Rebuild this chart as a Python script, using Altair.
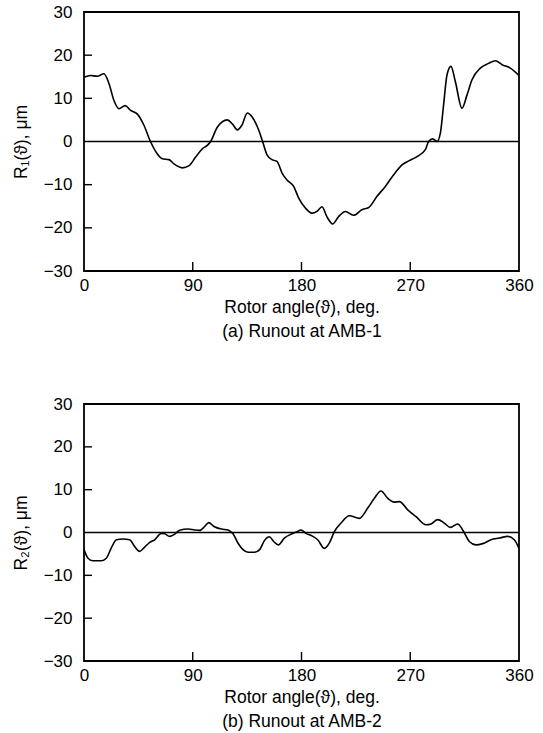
import altair as alt
import pandas as pd

# Panel (a): runout at AMB-1
deg_a = [0, 5.5, 11, 16.5, 20.7, 24.8, 29, 34, 38.6, 44, 49.7, 55, 60.7, 64.8, 70.3, 74.5,
         81.4, 87, 92.4, 97.9, 102, 104.8, 110.3, 118.6, 122.7, 126.9, 130.5, 135.2, 139.3,
         144.8, 147.6, 151.5, 155.6, 159.7, 163.9, 168, 173.5, 177.7, 183.2, 188.7, 192.8,
         197, 201, 205.8, 210.7, 216.3, 223.1, 230, 235.6, 242.5, 249.4, 256.3, 263.2, 268.7,
         275.6, 282.5, 285.2, 288.6, 292.1, 294.9, 297.6, 300.4, 303.7, 307.3, 312.8, 317,
         321.1, 328, 334.9, 340.4, 346, 352.8, 360]
r1 = [14.9, 15.3, 15.1, 15.7, 13.4, 9.5, 7.6, 8.3, 7.2, 6.4, 3.7, 0, -2.9, -4.0, -4.2, -5.2,
      -6.1, -5.6, -3.6, -1.7, -0.9, 0, 3.3, 5.0, 4.1, 2.7, 3.7, 6.6, 5.6,
      2.5, 0.2, -3.1, -4.2, -4.6, -7.3, -8.9, -10.4, -13.1, -15.4, -16.6, -16.2,
      -15.1, -17.4, -19.1, -17.4, -16.2, -17.1, -15.8, -15.3, -12.7, -10.4, -7.7, -5.4, -4.5,
      -3.5, -1.9, 0, 0.6, 0, 1.9, 8.5, 15.4, 17.4, 13.9, 7.7, 10.8,
      14.3, 17.0, 18.1, 18.7, 17.8, 17.0, 15.3]

# Panel (b): runout at AMB-2
deg_b = [0, 3.3, 7.4, 14.3, 18.5, 22.6, 26.8, 32.3, 37.8, 42, 46.1, 50.2, 54.4, 58.5, 64,
         66.8, 70.9, 74.5, 79.2, 86.1, 91.6, 95.8, 99.9, 103.2, 107.6, 113.6, 119.2, 123.3,
         127.5, 131.6, 135.7, 141.3, 145.4, 149.3, 153.4, 157, 160.8, 165.8, 171.3, 176.3,
         179.6, 183.7, 189.3, 193.4, 198.9, 203, 207.2, 212.7, 219.6, 227.9, 234.8, 240.3,
         245.8, 251.3, 256.8, 261, 267.9, 274.8, 283.1, 287.2, 292.7, 298.2, 303.2, 309.3,
         313.4, 318.9, 324.4, 330, 336.8, 343.7, 350.7, 356.1, 360]
r2 = [-4.0, -6.0, -6.6, -6.6, -6.0, -3.6, -1.7, -1.5, -1.7, -3.3, -4.4, -3.4, -2.3, -1.7, -0.2,
      -0.3, -0.9, -0.5, 0.5, 0.8, 0.6, 0.5, 1.4, 2.3, 1.4, 0.8, 0.6, -0.3,
      -2.5, -4.0, -4.6, -4.6, -4.0, -1.9, -1.0, -2.1, -2.9, -1.3, -0.4, 0.2,
      0.6, -0.2, -0.9, -1.7, -3.7, -2.5, 0.2, 2.2, 3.9, 3.3, 5.7, 8.0,
      9.7, 8.0, 7.1, 7.2, 5.3, 3.7, 1.8, 2.0, 3.0, 2.2, 1.2, 2.0,
      0.6, -2.1, -2.9, -2.6, -1.7, -1.3, -0.9, -1.7, -3.7]

x_ticks = [0, 90, 180, 270, 360]
x_inner_ticks = [90, 180, 270]
y_ticks = [-30, -20, -10, 0, 10, 20, 30]
y_inner_ticks = [-20, -10, 10, 20]

FONT = "Liberation Sans"
W = 435


def panel(deg, vals, ytitle, caption, h):
    df = pd.DataFrame({"deg": deg, "val": vals})
    xs = alt.Scale(domain=[0, 360], nice=False, zero=False)
    ys = alt.Scale(domain=[-30, 30], nice=False)
    line = alt.Chart(df).mark_line(color="black", strokeWidth=1.6, interpolate="monotone").encode(
        x=alt.X("deg:Q", scale=xs,
                axis=alt.Axis(values=x_ticks, title=["Rotor angle(ϑ), deg.", caption],
                              labelPadding=6, titlePadding=5, titleLineHeight=24,
                              labelFlush=False)),
        y=alt.Y("val:Q", scale=ys,
                axis=alt.Axis(values=y_ticks, title=ytitle, labelPadding=12,
                              titlePadding=13)),
    )
    zero = alt.Chart(pd.DataFrame({"z": [0]})).mark_rule(color="black", strokeWidth=1.6).encode(
        y=alt.Y("z:Q", scale=ys)
    )
    yt = alt.Chart(pd.DataFrame({"t": y_inner_ticks})).mark_rule(color="black", strokeWidth=1.4).encode(
        y=alt.Y("t:Q", scale=ys), x=alt.value(0), x2=alt.value(8)
    )
    xt = alt.Chart(pd.DataFrame({"t": x_inner_ticks})).mark_rule(color="black", strokeWidth=1.4).encode(
        x=alt.X("t:Q", scale=xs), y=alt.value(h), y2=alt.value(h - 9)
    )
    return alt.layer(zero, yt, xt, line).properties(width=W, height=h)


top = panel(deg_a, r1, "R₁(ϑ), μm", "(a) Runout at AMB-1", 259)
bot = panel(deg_b, r2, "R₂(ϑ), μm", "(b) Runout at AMB-2", 257)

chart = alt.vconcat(top, bot, spacing=53).properties(
    padding={"left": 11, "top": 2, "right": 6, "bottom": 2},
    background="white",
).configure_view(
    stroke="black", strokeWidth=1.8
).configure_axis(
    domain=False, ticks=False, grid=False,
    labelFont=FONT, labelFontSize=17, labelColor="black",
    titleFont=FONT, titleFontSize=17.5, titleColor="black", titleFontWeight="normal",
)

chart.save("out.html", embed_options={"renderer": "svg", "actions": False})
